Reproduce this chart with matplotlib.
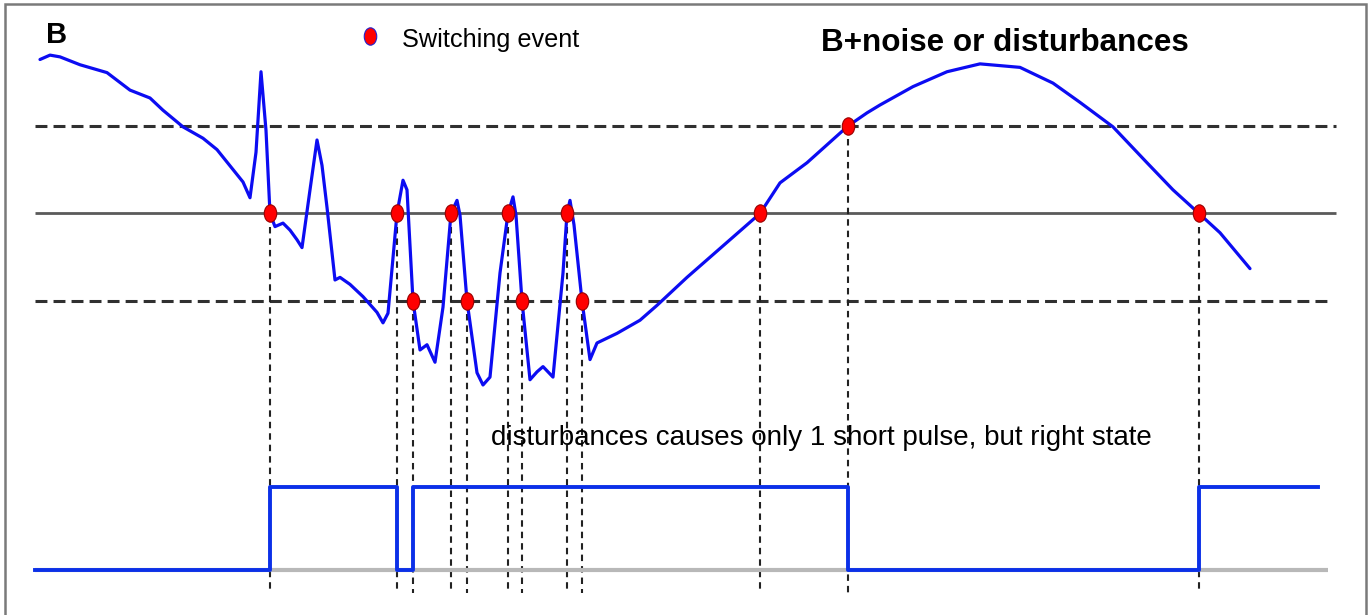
import matplotlib.pyplot as plt
from matplotlib.path import Path
from matplotlib.patches import Rectangle
import numpy as np

plt.rcParams['font.family'] = ['Liberation Sans', 'DejaVu Sans']

# B signal with disturbances, in threshold units (hysteresis band at +-1)
t = [40, 50, 60, 80, 107, 130, 150, 163, 183, 203, 217, 243, 250, 256, 261, 266, 270,
     275, 283, 290, 297, 302, 310, 317, 322, 327, 335, 340, 350, 363, 377, 383,
     388, 397, 403, 407, 413, 420, 427, 435, 443, 451, 457, 460, 467, 477, 483,
     490, 500, 508, 513, 516, 522, 530, 537, 543, 553, 563, 567, 570, 574, 582,
     590, 597, 617, 640, 657, 687, 713, 733, 760, 780, 807, 848, 867, 880, 913,
     947, 980, 1020, 1053, 1080, 1113, 1147, 1173, 1199, 1220, 1250]
b = [1.76, 1.81, 1.79, 1.70, 1.61, 1.41, 1.32, 1.18, 0.99, 0.86, 0.73, 0.36, 0.18, 0.70, 1.62, 0.95, 0.0,
     -0.15, -0.11, -0.19, -0.30, -0.39, 0.27, 0.84, 0.55, 0.07, -0.76, -0.73, -0.81, -0.95, -1.13, -1.25,
     -1.14, 0.0, 0.38, 0.27, -1.0, -1.56, -1.50, -1.70, -1.07, 0.0, 0.15, -0.02, -1.0, -1.82, -1.96,
     -1.87, -0.68, 0.0, 0.19, -0.02, -1.0, -1.90, -1.81, -1.75, -1.87, -0.68, 0.0, 0.15, -0.13, -1.0,
     -1.67, -1.48, -1.37, -1.22, -1.05, -0.73, -0.47, -0.27, 0.0, 0.35, 0.58, 1.0, 1.15, 1.24, 1.45,
     1.62, 1.71, 1.67, 1.49, 1.27, 0.99, 0.58, 0.27, 0.0, -0.22, -0.63]

# switching events: where B crosses 0 or one of the thresholds
event_t = [270, 397, 413, 451, 467, 508, 522, 567, 582, 760, 848, 1199]
event_b = [0, 0, -1, 0, -1, 0, -1, 0, -1, 0, 1, 0]

# comparator output state
state_t = [35, 270, 397, 413, 848, 1199, 1318]
state = [0, 1, 0, 1, 0, 1, 1]

T0, T1 = 35, 1336
OUT_LO, OUT_HI = -4.07, -3.13
DROP_END = -4.34
W, H = 1371, 615

fig = plt.figure(figsize=(W / 100, H / 100), dpi=100)
ax = fig.add_axes([0, 0, 1, 1])
ax.set_xlim(0, W)
ax.set_ylim(-4.589, 2.44)
ax.axis('off')


def px(x, y):
    return x / W, 1 - y / H


# thresholds and zero line
ax.hlines([1, -1], T0, [1336, 1330], colors='#303030', lw=2.2,
          linestyles=(0, (3.9, 2.0)), zorder=1)
ax.hlines(0, T0, T1, colors='#5a5a5a', lw=2.0, zorder=1)

# drop lines from each event to the output trace
ax.vlines(event_t, np.array(event_b) - 0.15, DROP_END, colors='#222222', lw=1.5,
          linestyles=(0, (3.1, 2.4)), zorder=1)

ax.plot(t, b, color='#0c0cf2', lw=2.3, solid_joinstyle='round',
        solid_capstyle='round', zorder=2)

# output trace
ax.hlines(OUT_LO, T0, 1328, colors='#b8b8b8', lw=3, zorder=1)
out = OUT_LO + (OUT_HI - OUT_LO) * np.array(state)
ax.step(state_t, out, where='post', color='#0b30e8', lw=2.8, zorder=2)

# slightly tall ellipse marker
circ = Path.unit_circle()
ell = Path(circ.vertices * [0.72, 1.0], circ.codes)
ax.plot(event_t, event_b, ls='none', marker=ell, ms=12.5, mfc='#ff0000',
        mec='#990000', mew=0.8, zorder=3)

fig.text(*px(46, 43), 'B', fontsize=21, fontweight='bold', va='baseline')
fig.text(*px(821, 51), 'B+noise or disturbances', fontsize=22.6,
         fontweight='bold', va='baseline')
fig.text(*px(491, 445), 'disturbances causes only 1 short pulse, but right state',
         fontsize=20, va='baseline')

ax.plot([370], [(213.5 - 36) / 87.5], ls='none', marker=ell, ms=12.5,
        mfc='#ff0000', mec='#2222cc', mew=0.8)
fig.text(*px(402, 47), 'Switching event', fontsize=18.2, va='baseline')

fig.add_artist(Rectangle(px(4.5, 640), (1366 - 4.5) / W, 636 / H, transform=fig.transFigure,
                         fill=False, ec='#7a7a7a', lw=1.8))

fig.savefig('out.png', dpi=100)
